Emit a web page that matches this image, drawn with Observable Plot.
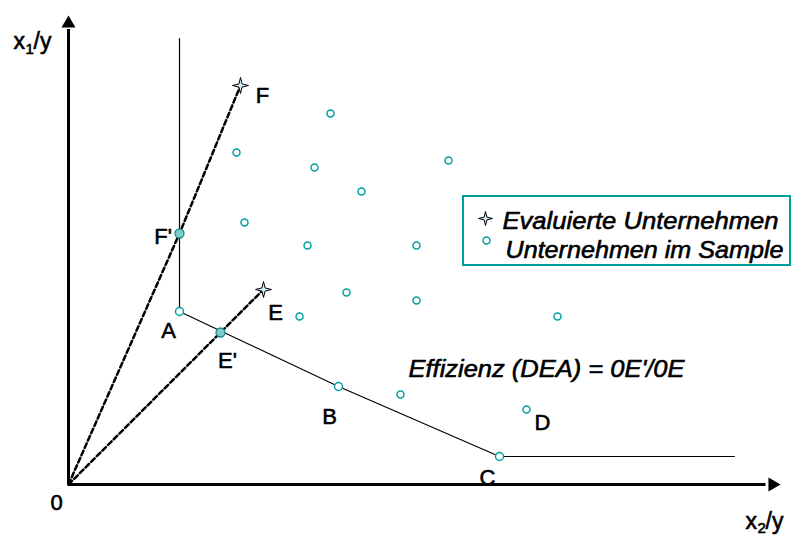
<!DOCTYPE html>
<html>
<head>
<meta charset="utf-8">
<script src="https://cdn.jsdelivr.net/npm/d3@7"></script>
<script src="https://cdn.jsdelivr.net/npm/@observablehq/plot@0.6"></script>
<style>
  html, body { margin: 0; padding: 0; background: #fff; }
  svg { display: block; }
</style>
</head>
<body>
<div id="chart"></div>
<script>
// ---- Data (x2/y on horizontal axis, x1/y on vertical axis) ----
const frontierX2 = [2.22, 2.22, 5.40, 8.62, 13.32];
const frontierX1 = [8.92, 3.46, 1.96, 0.56, 0.56];

const efficientNames = ["A", "B", "C"];
const efficientX2 = [2.22, 5.40, 8.62];
const efficientX1 = [3.46, 1.96, 0.56];

const sampleX2 = [5.24, 3.36, 4.92, 5.86, 7.60, 3.52, 4.78, 6.96, 5.56, 6.96, 4.62, 9.78, 6.64, 9.16];
const sampleX1 = [7.42, 6.64, 6.34, 5.86, 6.48, 5.24, 4.78, 4.78, 3.84, 3.68, 3.36, 3.36, 1.80, 1.50];

const evaluatedNames = ["E", "F"];
const evaluatedX2 = [3.90, 3.44];
const evaluatedX1 = [3.90, 7.98];

const projectedNames = ["E'", "F'"];
const projectedX2 = [3.04, 2.22];
const projectedX1 = [3.04, 5.02];

// point labels (text, position of label)
const labelText = ["F", "F'", "A", "E", "E'", "B", "D", "C", "0"];
const labelX2 = [3.88, 1.89, 2.00, 4.14, 3.18, 5.22, 9.48, 8.38, -0.24];
const labelX1 = [7.64, 4.82, 2.94, 3.30, 2.34, 1.22, 1.10, 0.00, -0.50];

const legendLabels = ["Evaluierte Unternehmen", "Unternehmen im Sample"];
const formulaText = "Effizienz (DEA) = 0E'/0E";

// ---- Derived tables ----
const frontier = frontierX2.map((x, i) => ({x, y: frontierX1[i]}));
const efficient = efficientNames.map((n, i) => ({n, x: efficientX2[i], y: efficientX1[i]}));
const sample = sampleX2.map((x, i) => ({x, y: sampleX1[i]}));
const evaluated = evaluatedNames.map((n, i) => ({n, x: evaluatedX2[i], y: evaluatedX1[i]}));
const projected = projectedNames.map((n, i) => ({n, x: projectedX2[i], y: projectedX1[i]}));
const rays = [];
evaluatedNames.forEach((n, i) => {
  rays.push({n, x: 0, y: 0});
  rays.push({n, x: projectedX2[i], y: projectedX1[i]});
  rays.push({n, x: evaluatedX2[i], y: evaluatedX1[i]});
});
const labels = labelText.map((t, i) => ({t, x: labelX2[i], y: labelX1[i]}));

// 4-pointed star symbol
const star4 = {
  draw(context, size) {
    const r = Math.sqrt(size / Math.PI);
    const a = r * 0.2;
    context.moveTo(0, -r);
    context.lineTo(a, -a);
    context.lineTo(r, 0);
    context.lineTo(a, a);
    context.lineTo(0, r);
    context.lineTo(-a, a);
    context.lineTo(-r, 0);
    context.lineTo(-a, -a);
    context.closePath();
  }
};

const teal = "#00a0a0";
const font = "'Liberation Sans', Arial, sans-serif";
const txt = {fill: "black", stroke: "black", strokeWidth: 0.6};

const chart = Plot.plot({
  width: 792,
  height: 536,
  margin: 0,
  style: {fontFamily: font, background: "#fff", overflow: "visible"},
  x: {domain: [0, 14.24], range: [68, 780], axis: null},
  y: {domain: [0, 9.38], range: [484, 15], axis: null},
  marks: [
    // axes
    Plot.ruleX([0], {y1: 0, y2: 9.1, stroke: "black", strokeWidth: 3}),
    Plot.ruleY([0], {x1: 0, x2: 13.95, stroke: "black", strokeWidth: 3}),
    Plot.dot([{x: 0, y: 9.22}], {x: "x", y: "y", symbol: "triangle", r: 5.2, fill: "black", stroke: "none"}),
    Plot.dot([{x: 14.08, y: 0}], {x: "x", y: "y", symbol: "triangle", r: 5.2, rotate: 90, fill: "black", stroke: "none"}),
    // frontier
    Plot.line(frontier, {x: "x", y: "y", stroke: "black", strokeWidth: 1.2}),
    // rays
    Plot.line(rays, {x: "x", y: "y", z: "n", stroke: "black", strokeWidth: 2.5, strokeDasharray: "5,3"}),
    // sample points
    Plot.dot(sample, {x: "x", y: "y", r: 3.5, stroke: teal, strokeWidth: 1.5, fill: "white"}),
    Plot.dot(efficient, {x: "x", y: "y", r: 4, stroke: teal, strokeWidth: 1.5, fill: "white"}),
    Plot.dot(projected, {x: "x", y: "y", r: 4.5, stroke: "#168a8a", strokeWidth: 1.3, fill: "#80caca"}),
    Plot.dot(evaluated, {x: "x", y: "y", r: 8, symbol: star4, stroke: "black", strokeWidth: 1, fill: "#cdeef5"}),
    // point labels
    Plot.text(labels, {x: "x", y: "y", text: "t", fontSize: 22, lineAnchor: "bottom", ...txt}),
    // axis titles
    Plot.text(["x"], {x: -1.10, y: 8.72, text: d => d, fontSize: 23, textAnchor: "start", lineAnchor: "bottom", ...txt}),
    Plot.text(["1"], {x: -0.86, y: 8.62, text: d => d, fontSize: 15, textAnchor: "start", lineAnchor: "bottom", ...txt}),
    Plot.text(["/y"], {x: -0.70, y: 8.72, text: d => d, fontSize: 23, textAnchor: "start", lineAnchor: "bottom", ...txt}),
    Plot.text(["x"], {x: 13.54, y: -0.88, text: d => d, fontSize: 23, textAnchor: "start", lineAnchor: "bottom", ...txt}),
    Plot.text(["2"], {x: 13.78, y: -0.96, text: d => d, fontSize: 15, textAnchor: "start", lineAnchor: "bottom", ...txt}),
    Plot.text(["/y"], {x: 13.94, y: -0.88, text: d => d, fontSize: 23, textAnchor: "start", lineAnchor: "bottom", ...txt}),
    // formula
    Plot.text([formulaText], {x: 6.8, y: 2.16, text: d => d, fontSize: 24, fontStyle: "italic", textAnchor: "start", lineAnchor: "bottom", ...txt}),
    // legend
    Plot.rect([{x1: 7.9, x2: 14.44, y1: 4.38, y2: 5.76}], {x1: "x1", x2: "x2", y1: "y1", y2: "y2", fill: "none", stroke: teal, strokeWidth: 2}),
    Plot.dot([{x: 8.34, y: 5.32}], {x: "x", y: "y", r: 7, symbol: star4, stroke: "black", strokeWidth: 1, fill: "#cdeef5"}),
    Plot.dot([{x: 8.36, y: 4.88}], {x: "x", y: "y", r: 3.5, stroke: teal, strokeWidth: 1.5, fill: "white"}),
    Plot.text(legendLabels, {x: (d, i) => [8.68, 8.74][i], y: (d, i) => [5.12, 4.54][i], text: d => d, fontSize: 24, fontStyle: "italic", textAnchor: "start", lineAnchor: "bottom", ...txt})
  ]
});
// the reference type is slightly wider than Liberation Sans: stretch the long italic texts
const widths = {[formulaText]: 276, [legendLabels[0]]: 276, [legendLabels[1]]: 278};
d3.select(chart).selectAll("text").each(function () {
  const w = widths[this.textContent];
  if (w) { this.setAttribute("textLength", w); this.setAttribute("lengthAdjust", "spacingAndGlyphs"); }
});
document.getElementById("chart").appendChild(chart);
</script>
</body>
</html>
